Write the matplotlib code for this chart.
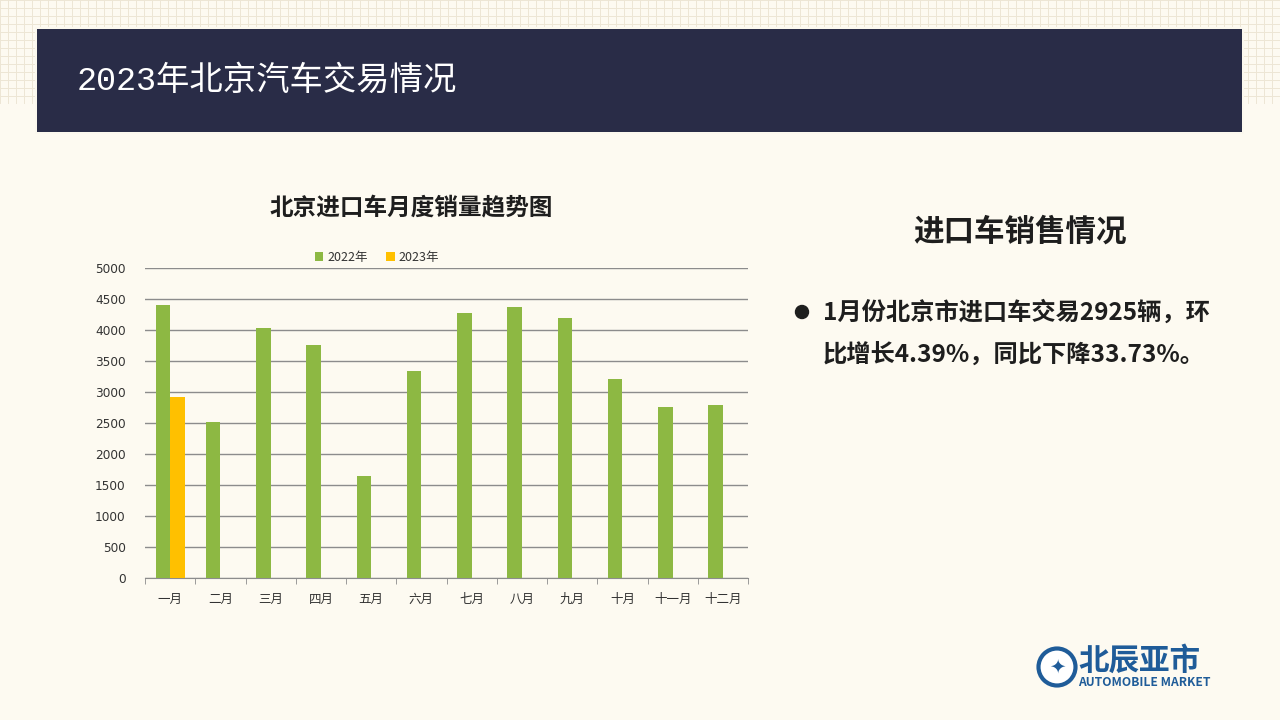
import numpy as np
import matplotlib.pyplot as plt
from matplotlib.patches import Rectangle, Circle

plt.rcParams['font.family'] = ['Noto Sans CJK SC', 'DejaVu Sans']

# data
months = ['一月', '二月', '三月', '四月', '五月', '六月', '七月', '八月', '九月', '十月', '十一月', '十二月']
sales_2022 = [4410, 2515, 4035, 3760, 1650, 3340, 4275, 4375, 4195, 3210, 2760, 2795]
sales_2023 = [2925]
y_ticks = [0, 500, 1000, 1500, 2000, 2500, 3000, 3500, 4000, 4500, 5000]

bg = '#FDFAF1'
navy = '#292C47'
green = '#8DB843'
yellow = '#FFC000'
dark = '#1E1E1E'

fig = plt.figure(figsize=(12.8, 7.2), dpi=100)
fig.patch.set_facecolor(bg)

# background layer in pixel coordinates
bgax = fig.add_axes([0, 0, 1, 1])
bgax.set_xlim(0, 1280)
bgax.set_ylim(720, 0)
bgax.axis('off')

# faint grid pattern at the top
for x in np.arange(0, 1281, 8):
    bgax.plot([x, x], [0, 103], color='#EDE6D5', lw=0.7, zorder=0)
for y in np.arange(0, 104, 8):
    bgax.plot([0, 1280], [y, y], color='#EDE6D5', lw=0.7, zorder=0)

bgax.add_patch(Rectangle((35, 27), 1209, 107, facecolor='#FBF8EE', edgecolor='none', zorder=1))
bgax.add_patch(Rectangle((37, 29), 1205, 103, facecolor=navy, edgecolor='none', zorder=1))
bgax.text(77, 81, '2023年北京汽车交易情况', color='white', fontsize=24,
          family=['Liberation Mono', 'Noto Sans CJK SC'],
          va='center', ha='left', zorder=2)

bgax.text(1020, 232, '进口车销售情况', fontsize=22, fontweight='bold',
          ha='center', va='center', color=dark)
bgax.add_patch(Circle((802, 312), 6.5, color=dark))
bgax.text(823, 313, '1月份北京市进口车交易2925辆，环', fontsize=17.5, fontweight='bold',
          ha='left', va='center', color=dark)
bgax.text(823, 356, '比增长4.39%，同比下降33.73%。', fontsize=17.5, fontweight='bold',
          ha='left', va='center', color=dark)

# logo
bgax.add_patch(Circle((1057, 667), 18.5, facecolor='white', edgecolor='#1F5C99', lw=3))
bgax.text(1057, 667, '✦', fontsize=14, color='#1F5C99', ha='center', va='center',
          family=['DejaVu Sans'])
bgax.text(1078, 661, '北辰亚市', fontsize=22, fontweight='black', color='#1F5C99',
          ha='left', va='center')
bgax.text(1078, 682, 'AUTOMOBILE MARKET', fontsize=8.7, fontweight='bold', color='#1F5C99',
          ha='left', va='center')

# chart
ax = fig.add_axes([145 / 1280, 1 - 578 / 720, (748 - 145) / 1280, (578 - 268) / 720])
ax.set_facecolor('none')
x = np.arange(len(months))
w = 0.29
ax.bar(x - w / 2, sales_2022, w, color=green, label='2022年', zorder=3)
ax.bar(x[:len(sales_2023)] + w / 2, sales_2023, w, color=yellow, label='2023年', zorder=3)

ax.set_xlim(-0.5, len(months) - 0.5)
ax.set_ylim(0, 5000)
ax.set_yticks(y_ticks)
ax.tick_params(axis='y', length=0, labelsize=8.7, labelcolor='#333333', pad=14)
for lab in ax.get_yticklabels():
    lab.set_family(['DejaVu Sans'])
ax.grid(axis='y', color='#8C8C8C', lw=1, zorder=0)
ax.set_xticks(x)
ax.set_xticklabels(months, fontsize=9, color='#333333')
ax.set_xticks(np.arange(-0.5, len(months)), minor=True)
ax.tick_params(axis='x', which='major', length=0, pad=11)
ax.tick_params(axis='x', which='minor', length=4, color='#8C8C8C')
for s in ['top', 'right', 'left']:
    ax.spines[s].set_visible(False)
ax.spines['bottom'].set_color('#8C8C8C')

bgax.text(411, 207, '北京进口车月度销量趋势图', fontsize=17, fontweight='bold',
          ha='center', va='center', color=dark)
ax.legend(loc='center', bbox_to_anchor=(377 / 1280, 1 - 257 / 720), bbox_transform=fig.transFigure,
          ncol=2, frameon=False,
          fontsize=9, handlelength=0.7, handleheight=0.7, columnspacing=1.5,
          handletextpad=0.3, labelcolor='#333333')

fig.savefig('out.png', dpi=100, facecolor=fig.get_facecolor())
